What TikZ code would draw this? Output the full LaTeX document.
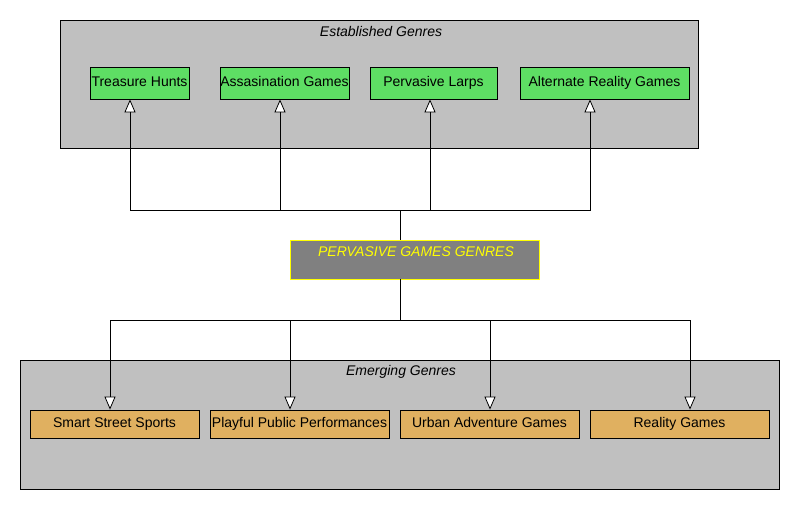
\documentclass[tikz,border=0pt]{standalone}
\usepackage{fontspec}
\setmainfont{Liberation Sans}
\usetikzlibrary{arrows.meta}
\definecolor{contgray}{HTML}{C0C0C0}
\definecolor{boxgreen}{HTML}{5EDE64}
\definecolor{boxorange}{HTML}{E0B060}
\definecolor{midgray}{HTML}{808080}
\definecolor{yel}{HTML}{FFFF00}
\begin{document}
\begin{tikzpicture}[x=1pt,y=-1pt,
  container/.style={draw=black, fill=contgray, line width=0.8pt},
  greenbox/.style={draw=black, fill=boxgreen, line width=0.8pt, inner sep=0pt, text height=10pt, text depth=3pt, font=\fontsize{14}{16}\selectfont},
  orangebox/.style={draw=black, fill=boxorange, line width=0.8pt, inner sep=0pt, text height=10pt, text depth=3pt, font=\fontsize{14}{16}\selectfont},
  ctitle/.style={font=\fontsize{14}{16}\selectfont\itshape, inner sep=0pt},
  conn/.style={draw=black, line width=0.8pt},
  arr/.style={conn, -{Triangle[open, width=11pt, length=13pt, fill=white]}}
]
\useasboundingbox (0,0) rectangle (800,510);
\fill[white] (0,0) rectangle (800,510);

% containers
\draw[container] (60,20) rectangle (698,148);
\node[ctitle] (esttitle) at (381,32) {Established Genres};
\draw[container] (20,360) rectangle (779,489);
\node[ctitle] (emtitle) at (401,372) {Emerging Genres};

% established boxes
\node[greenbox, minimum width=99pt, minimum height=32pt] (th) at (139.5,83) {Treasure Hunts};
\node[greenbox, minimum width=129pt, minimum height=32pt] (ag) at (284.5,83) {Assasination Games};
\node[greenbox, minimum width=127pt, minimum height=32pt] (pl) at (433.5,83) {Pervasive Larps};
\node[greenbox, minimum width=169pt, minimum height=32pt] (arg) at (604.5,83) {Alternate Reality Games};

% center
\node[draw=yel, fill=midgray, line width=0.8pt, minimum width=249pt, minimum height=39pt, inner sep=0pt] (pg) at (414.5,259.5) {};
\node[font=\fontsize{14}{16}\selectfont\itshape, text=yel, inner sep=0pt] (pgtext) at (416,252) {PERVASIVE GAMES GENRES};

% emerging boxes
\node[orangebox, minimum width=169pt, minimum height=28pt] (sss) at (114.5,424) {Smart Street Sports};
\node[orangebox, minimum width=179pt, minimum height=28pt] (ppp) at (299.5,424) {Playful Public Performances};
\node[orangebox, minimum width=179pt, minimum height=28pt] (uag) at (489.5,424) {Urban Adventure Games};
\node[orangebox, minimum width=179pt, minimum height=28pt] (rg) at (679.5,424) {Reality Games};

% junctions
\coordinate (jt) at (400,210);
\coordinate (jb) at (400,320);

\draw[conn] (pg.north -| jt) -- (jt);
\draw[arr] (jt) -| (th.south -| 130,0);
\draw[arr] (jt) -| (ag.south -| 280,0);
\draw[arr] (jt) -| (pl.south -| 430,0);
\draw[arr] (jt) -| (arg.south -| 590,0);

\draw[conn] (pg.south -| jb) -- (jb);
\draw[arr] (jb) -| (sss.north -| 110,0);
\draw[arr] (jb) -| (ppp.north -| 290,0);
\draw[arr] (jb) -| (uag.north -| 490,0);
\draw[arr] (jb) -| (rg.north -| 690,0);
\end{tikzpicture}
\end{document}
